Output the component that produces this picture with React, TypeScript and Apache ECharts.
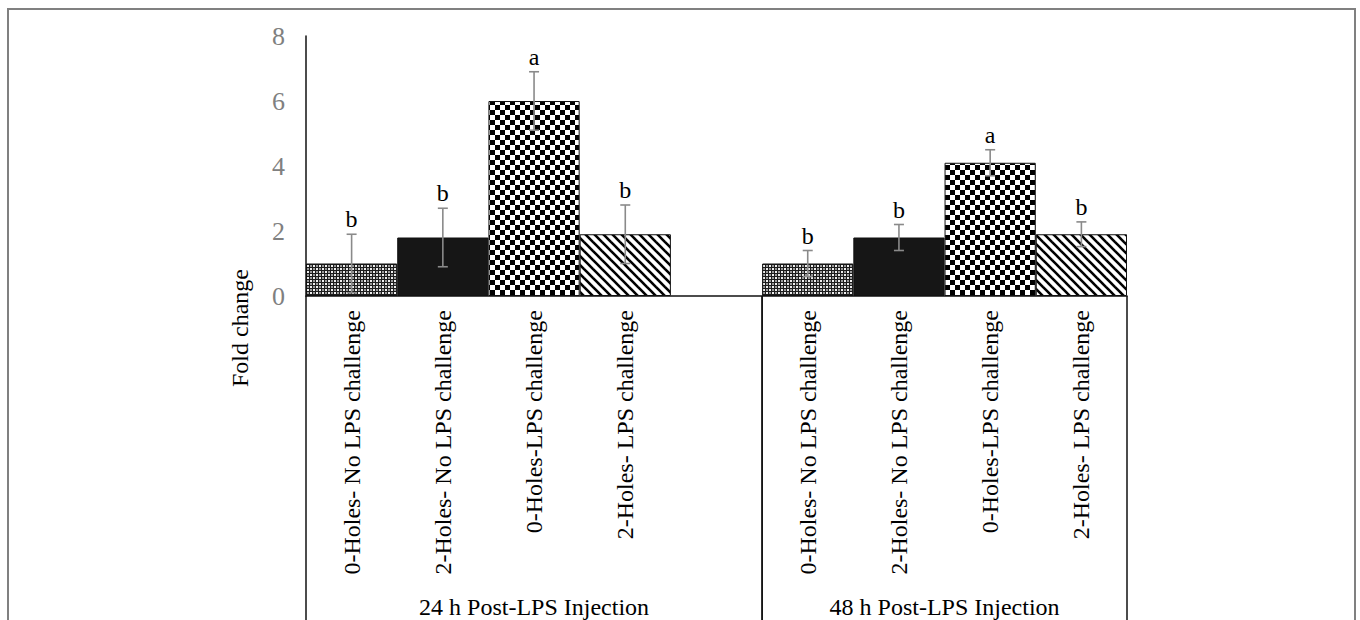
import React, { useEffect, useRef } from "react";
import * as echarts from "echarts";

const categories = [
  "0-Holes- No LPS challenge",
  "2-Holes- No LPS challenge",
  "0-Holes-LPS challenge",
  "2-Holes- LPS challenge",
  "",
  "0-Holes- No LPS challenge",
  "2-Holes- No LPS challenge",
  "0-Holes-LPS challenge",
  "2-Holes- LPS challenge",
];
const foldChange: (number | null)[] = [1.0, 1.8, 6.0, 1.9, null, 1.0, 1.8, 4.1, 1.9];
const errors: (number | null)[] = [0.9, 0.9, 0.9, 0.9, null, 0.4, 0.4, 0.4, 0.38];
const letters = ["b", "b", "a", "b", "", "b", "b", "a", "b"];
const patternKinds = ["dots", "solid", "checker", "diag", "none", "dots", "solid", "checker", "diag"];
const groups: [number, number, string][] = [
  [0, 4, "24 h Post-LPS Injection"],
  [5, 8, "48 h Post-LPS Injection"],
];
const yTicks = { min: 0, max: 8, interval: 2 };

const FONT = "'Liberation Serif', 'Times New Roman', serif";

function makePattern(kind: string): any {
  if (kind === "solid") return "#161616";
  const c = document.createElement("canvas");
  const ctx = c.getContext("2d")!;
  if (kind === "dots") {
    c.width = 6;
    c.height = 6;
    ctx.fillStyle = "#1c1c1c";
    ctx.fillRect(0, 0, 6, 6);
    ctx.fillStyle = "#f0f0f0";
    ctx.fillRect(1, 1, 2, 2);
    ctx.fillRect(4, 4, 2, 2);
    ctx.fillStyle = "#9a9a9a";
    ctx.fillRect(1, 4, 2, 2);
    ctx.fillRect(4, 1, 2, 2);
  } else if (kind === "checker") {
    c.width = 10;
    c.height = 10;
    ctx.fillStyle = "#ffffff";
    ctx.fillRect(0, 0, 10, 10);
    ctx.fillStyle = "#000000";
    ctx.fillRect(0, 0, 5, 5);
    ctx.fillRect(5, 5, 5, 5);
  } else if (kind === "diag") {
    c.width = 9;
    c.height = 9;
    ctx.fillStyle = "#ffffff";
    ctx.fillRect(0, 0, 9, 9);
    ctx.strokeStyle = "#000000";
    ctx.lineWidth = 2.6;
    for (let k = -9; k <= 9; k += 9) {
      ctx.beginPath();
      ctx.moveTo(k - 2, -2);
      ctx.lineTo(k + 11, 11);
      ctx.stroke();
    }
  } else {
    return "transparent";
  }
  return { image: c, repeat: "repeat" };
}

export default function App() {
  const ref = useRef<HTMLDivElement>(null);
  useEffect(() => {
    if (!ref.current) return;
    const chart = echarts.init(ref.current, null, { renderer: "svg" });

    const barData = foldChange.map((v, i) => ({
      value: v,
      itemStyle: {
        color: makePattern(patternKinds[i]),
        borderColor: "#111",
        borderWidth: 1,
      },
    }));

    const errData = foldChange
      .map((v, i) => (v == null ? null : [i, v, errors[i], letters[i]]))
      .filter((d) => d != null);

    chart.setOption({
      animation: false,
      backgroundColor: "#ffffff",
      grid: { left: 306, right: 233, top: 36, bottom: 324, containLabel: false },
      xAxis: {
        type: "category",
        data: categories,
        boundaryGap: true,
        axisLine: { show: true, lineStyle: { color: "#111", width: 1.5 } },
        axisTick: { show: false },
        axisLabel: {
          rotate: 90,
          interval: 0,
          margin: 14,
          fontFamily: FONT,
          fontSize: 24,
          color: "#000",
        },
        splitLine: { show: false },
      },
      yAxis: {
        type: "value",
        min: yTicks.min,
        max: yTicks.max,
        interval: yTicks.interval,
        axisLine: { show: true, lineStyle: { color: "#111", width: 1.5 } },
        axisTick: { show: false },
        splitLine: { show: false },
        axisLabel: {
          margin: 21,
          fontFamily: FONT,
          fontSize: 26,
          color: "#808080",
        },
      },
      series: [
        {
          type: "bar",
          data: barData,
          barWidth: "100%",
          barCategoryGap: "0%",
          z: 2,
        },
        {
          type: "custom",
          z: 5,
          clip: false,
          data: errData,
          renderItem: (params: any, api: any) => {
            const i = api.value(0);
            const v = api.value(1);
            const e = api.value(2);
            const letter = letters[i];
            const top = api.coord([i, v + e]);
            const bot = api.coord([i, v - e]);
            const cap = 5;
            const ls = { stroke: "#8a8a8a", lineWidth: 1.6 };
            return {
              type: "group",
              children: [
                { type: "line", shape: { x1: top[0], y1: top[1], x2: bot[0], y2: bot[1] }, style: ls },
                { type: "line", shape: { x1: top[0] - cap, y1: top[1], x2: top[0] + cap, y2: top[1] }, style: ls },
                { type: "line", shape: { x1: bot[0] - cap, y1: bot[1], x2: bot[0] + cap, y2: bot[1] }, style: ls },
                {
                  type: "text",
                  x: top[0],
                  y: top[1] - 3,
                  style: {
                    text: letter,
                    fontFamily: FONT,
                    fontSize: 24,
                    fill: "#000",
                    textAlign: "center",
                    textVerticalAlign: "bottom",
                  },
                },
              ],
            };
          },
        },
        {
          type: "custom",
          z: 4,
          clip: false,
          data: groups.map((g) => [g[0], g[1]]),
          renderItem: (params: any, api: any) => {
            const s = api.value(0);
            const e = api.value(1);
            const label = groups[params.dataIndex][2];
            const w = api.size([1, 0])[0];
            const p0 = api.coord([s, 0]);
            const p1 = api.coord([e, 0]);
            const left = p0[0] - w / 2;
            const right = p1[0] + w / 2;
            const h = api.getHeight();
            const ls = { stroke: "#111", lineWidth: 1.5 };
            return {
              type: "group",
              children: [
                { type: "line", shape: { x1: left, y1: p0[1], x2: left, y2: h + 5 }, style: ls },
                { type: "line", shape: { x1: right, y1: p0[1], x2: right, y2: h + 5 }, style: ls },
                {
                  type: "text",
                  x: (left + right) / 2,
                  y: h - 13,
                  style: {
                    text: label,
                    fontFamily: FONT,
                    fontSize: 24,
                    fill: "#000",
                    textAlign: "center",
                    textVerticalAlign: "middle",
                  },
                },
              ],
            };
          },
        },
      ],
      graphic: [
        {
          type: "rect",
          shape: { x: 8, y: 9, width: 1347, height: 640 },
          style: { fill: "none", stroke: "#808080", lineWidth: 2 },
          silent: true,
          z: 0,
        },
        {
          type: "text",
          x: 240,
          y: 328,
          rotation: Math.PI / 2,
          style: {
            text: "Fold change",
            fontFamily: FONT,
            fontSize: 24,
            fill: "#000",
            textAlign: "center",
            textVerticalAlign: "middle",
          },
        },
      ],
    });
    return () => chart.dispose();
  }, []);
  return (
    <div
      ref={ref}
      style={{ position: "fixed", left: 0, top: 0, width: 1360, height: 620, background: "#fff" }}
    />
  );
}
